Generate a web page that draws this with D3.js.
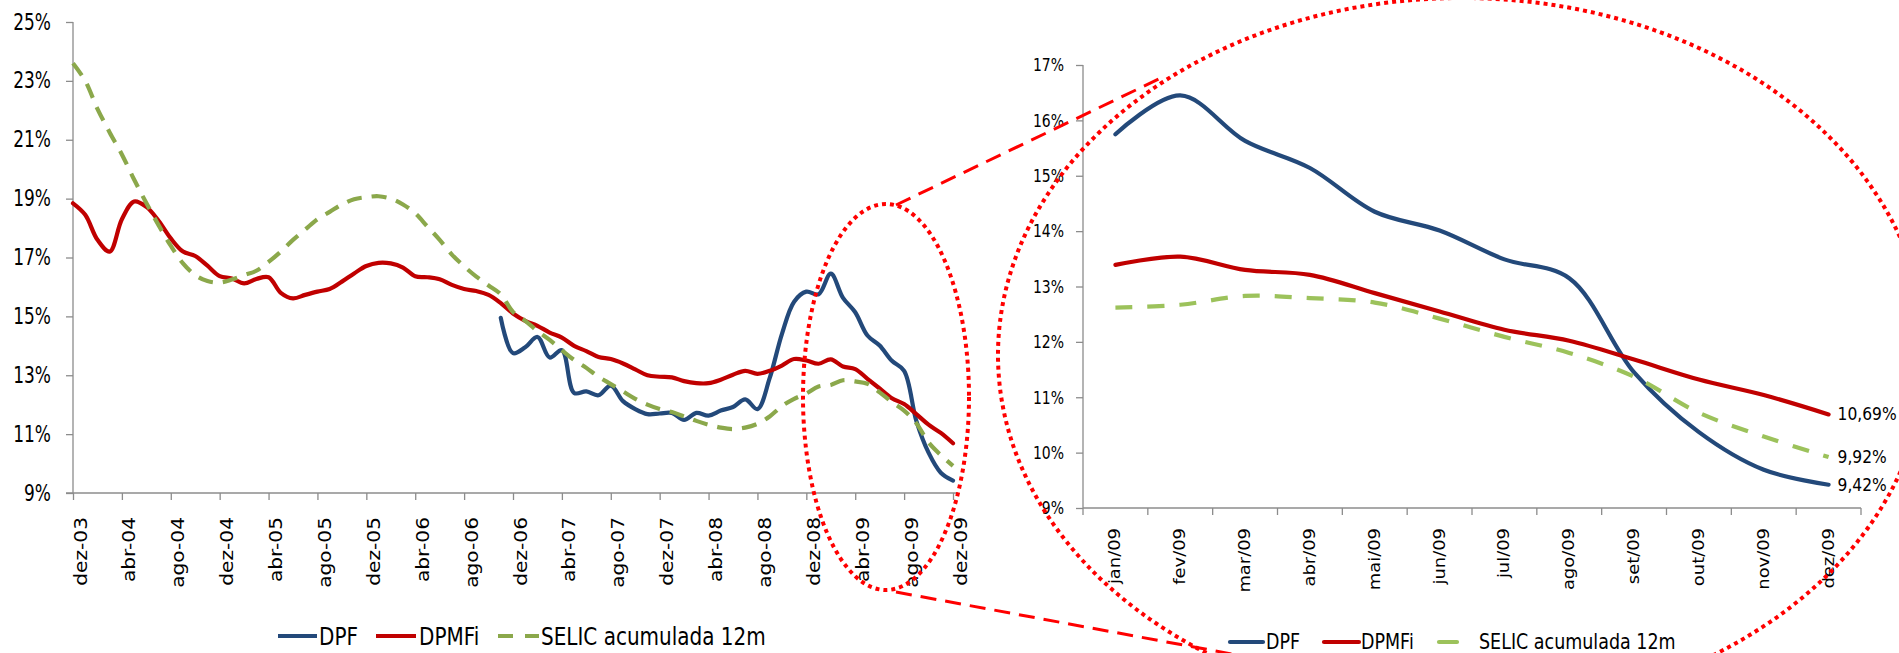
<!DOCTYPE html>
<html><head><meta charset="utf-8">
<script src="https://cdn.jsdelivr.net/npm/d3@7"></script>
<style>html,body{margin:0;padding:0;background:#fff;} svg{display:block;} text{font-family:"DejaVu Sans",sans-serif;fill:#000;}</style>
</head><body>
<svg id="c" width="1899" height="653"></svg>
<script>
// ---------- DATA ----------
const leftTickLabels = ["dez-03","abr-04","ago-04","dez-04","abr-05","ago-05","dez-05","abr-06","ago-06",
  "dez-06","abr-07","ago-07","dez-07","abr-08","ago-08","dez-08","abr-09","ago-09","dez-09"];
// monthly values, dez-03 ... dez-09 (73 months)
const leftDPMFi = [18.84,18.45,17.6,17.2,18.3,18.9,18.72,18.25,17.65,17.2,17.05,16.72,16.37,16.29,16.12,16.27,16.33,15.8,15.61,15.73,
  15.84,15.93,16.18,16.46,16.71,16.82,16.8,16.66,16.36,16.33,16.26,16.07,15.93,15.86,15.73,15.45,15.1,14.85,14.68,14.45,
  14.28,14.0,13.82,13.62,13.55,13.4,13.2,13.0,12.95,12.93,12.8,12.73,12.73,12.85,13.02,13.15,13.05,13.15,13.33,13.55,
  13.5,13.39,13.54,13.3,13.21,12.88,12.55,12.22,12.02,11.68,11.32,11.04,10.69];
const leftSELIC = [23.6,23.0,22.05,21.25,20.5,19.65,18.85,18.1,17.4,16.8,16.4,16.2,16.15,16.25,16.4,16.55,16.85,17.2,17.6,17.95,
  18.3,18.55,18.8,18.98,19.05,19.08,19.0,18.8,18.5,18.05,17.6,17.1,16.7,16.35,16.05,15.75,15.15,14.85,14.5,14.2,
  13.85,13.52,13.25,12.95,12.7,12.45,12.2,12.0,11.85,11.75,11.6,11.45,11.32,11.22,11.17,11.22,11.35,11.6,11.95,12.2,
  12.38,12.62,12.67,12.83,12.79,12.71,12.42,12.09,11.8,11.37,10.72,10.29,9.92];
const leftDPF = [null,null,null,null,null,null,null,null,null,null,null,null,null,null,null,null,null,null,null,null,
  null,null,null,null,null,null,null,null,null,null,null,null,null,null,null,14.95,13.75,13.95,14.3,13.6,
  13.85,12.4,12.45,12.32,12.65,12.12,11.85,11.68,11.7,11.72,11.48,11.72,11.63,11.8,11.92,12.18,11.85,12.9,14.4,15.5,
  15.84,15.75,16.45,15.63,15.14,14.35,14.01,13.49,13.15,11.45,10.37,9.69,9.42];
const leftYTicks = [9,11,13,15,17,19,21,23,25];

const rightMonths = ["jan/09","fev/09","mar/09","abr/09","mai/09","jun/09","jul/09","ago/09","set/09","out/09","nov/09","dez/09"];
const rightDPF   = [15.75,16.45,15.63,15.14,14.35,14.01,13.49,13.15,11.45,10.37,9.69,9.42];
const rightDPMFi = [13.39,13.54,13.30,13.21,12.88,12.55,12.22,12.02,11.68,11.32,11.04,10.69];
const rightSELIC = [12.62,12.67,12.83,12.79,12.71,12.42,12.09,11.80,11.37,10.72,10.29,9.92];
const rightYTicks = [9,10,11,12,13,14,15,16,17];

const seriesNames = ["DPF","DPMFi","SELIC acumulada 12m"];

// ---------- STYLE ----------
const BLUE = "#23497A", RED = "#C00000", GREEN_L = "#8BA84B", GREEN_R = "#9CC25B", AXIS = "#8C8C8C";
const curve = d3.curveCatmullRom.alpha(0.5);
const svg = d3.select("#c");
const pctComma = v => d3.format(".2f")(v).replace(".", ",") + "%";

// ---------- LEFT CHART ----------
const xL = d3.scaleLinear().domain([0, 72]).range([73, 953]);
const yL = d3.scaleLinear().domain([9, 25]).range([493, 22]);
const gL = svg.append("g");

const yAxL = gL.append("g").attr("transform", "translate(73,0)")
  .call(d3.axisLeft(yL).tickValues(leftYTicks).tickSize(7).tickPadding(15).tickFormat(d => d + "%"));
yAxL.select(".domain").attr("d", "M0," + yL(25) + "V" + yL(9));
yAxL.selectAll("text").style("font-size", "17px").attr("transform", "scale(1,1.3)");

const xAxL = gL.append("g").attr("transform", "translate(0,493)")
  .call(d3.axisBottom(xL).tickValues(d3.range(0, 73, 4)).tickSize(7).tickFormat((d, i) => leftTickLabels[i]));
xAxL.select(".domain").attr("d", "M66,0H958");
xAxL.selectAll("text").style("font-size", "18px").attr("text-anchor", "end")
  .attr("x", 0).attr("y", 0).attr("dy", 0)
  .attr("transform", "translate(13,24) scale(1,1.12) rotate(-90)");

[yAxL, xAxL].forEach(a => { a.selectAll("line,path").attr("stroke", AXIS).attr("stroke-width", 1.3); a.selectAll("text").attr("fill", "#000"); });

const lineL = d3.line().defined(d => d != null).x((d, i) => xL(i)).y(d => yL(d)).curve(curve);
gL.append("path").attr("d", lineL(leftDPF)).attr("fill", "none").attr("stroke", BLUE).attr("stroke-width", 4.2).attr("stroke-linecap", "round");
gL.append("path").attr("d", lineL(leftDPMFi)).attr("fill", "none").attr("stroke", RED).attr("stroke-width", 4.2).attr("stroke-linecap", "round");
gL.append("path").attr("d", lineL(leftSELIC)).attr("fill", "none").attr("stroke", GREEN_L).attr("stroke-width", 4.2).attr("stroke-dasharray", "15 10");

// left legend
const legL = [
  {name: seriesNames[0], color: BLUE, x1: 278, x2: 317, tx: 319, dash: null},
  {name: seriesNames[1], color: RED, x1: 376, x2: 416, tx: 419, dash: null},
  {name: seriesNames[2], color: GREEN_L, x1: 498, x2: 539, tx: 541, dash: "15 12"}];
legL.forEach(d => {
  gL.append("line").attr("x1", d.x1).attr("x2", d.x2).attr("y1", 636).attr("y2", 636)
    .attr("stroke", d.color).attr("stroke-width", 4.2).attr("stroke-dasharray", d.dash);
  gL.append("text").text(d.name).attr("transform", `translate(${d.tx},636) scale(1,1.2)`)
    .attr("dominant-baseline", "central").style("font-size", "20px");
});

// ---------- RIGHT CHART ----------
const xR = d3.scaleBand().domain(rightMonths).range([1083, 1861]).padding(0);
const yR = d3.scaleLinear().domain([9, 17]).range([508, 65]);
const gR = svg.append("g");
const cx = m => xR(m) + xR.bandwidth() / 2;

const yAxR = gR.append("g").attr("transform", "translate(1083,0)")
  .call(d3.axisLeft(yR).tickValues(rightYTicks).tickSize(7).tickPadding(12).tickFormat(d => d + "%"));
yAxR.select(".domain").attr("d", "M0," + yR(17) + "V" + yR(9));
yAxR.selectAll("text").style("font-size", "14px").attr("transform", "scale(1,1.3)");

const xAxR = gR.append("g").attr("transform", "translate(0,508)");
xAxR.append("path").attr("d", "M1083,0H1861");
xAxR.selectAll(".tk").data(d3.range(rightMonths.length + 1)).enter().append("line")
  .attr("x1", i => 1083 + i * xR.bandwidth()).attr("x2", i => 1083 + i * xR.bandwidth()).attr("y1", 0).attr("y2", 7);
xAxR.selectAll(".lb").data(rightMonths).enter().append("text").text(d => d)
  .attr("text-anchor", "end").style("font-size", "16px")
  .attr("transform", d => `translate(${cx(d) + 5},20) scale(1,1.12) rotate(-90)`);

[yAxR, xAxR].forEach(a => { a.selectAll("line,path").attr("stroke", AXIS).attr("stroke-width", 1.3).attr("fill", "none"); a.selectAll("text").attr("fill", "#000"); });

const lineR = d3.line().x((d, i) => cx(rightMonths[i])).y(d => yR(d)).curve(curve);
gR.append("path").attr("d", lineR(rightDPF)).attr("fill", "none").attr("stroke", BLUE).attr("stroke-width", 4.2).attr("stroke-linecap", "round");
gR.append("path").attr("d", lineR(rightDPMFi)).attr("fill", "none").attr("stroke", RED).attr("stroke-width", 4.2).attr("stroke-linecap", "round");
gR.append("path").attr("d", lineR(rightSELIC)).attr("fill", "none").attr("stroke", GREEN_R).attr("stroke-width", 4.2).attr("stroke-dasharray", "17 15");

// end labels
const last = rightMonths[rightMonths.length - 1];
[rightDPF, rightDPMFi, rightSELIC].forEach(s => {
  const v = s[s.length - 1];
  gR.append("text").text(pctComma(v)).attr("dominant-baseline", "central").style("font-size", "15.5px")
    .attr("transform", `translate(${cx(last) + 9},${yR(v)}) scale(1,1.12)`);
});

// right legend
const legR = [
  {name: seriesNames[0], color: BLUE, x1: 1230, x2: 1263, tx: 1266, dash: null},
  {name: seriesNames[1], color: RED, x1: 1324, x2: 1359, tx: 1361, dash: null},
  {name: seriesNames[2], color: GREEN_R, x1: 1439, x2: 1457, tx: 1479, dash: null}];
legR.forEach(d => {
  gR.append("line").attr("x1", d.x1).attr("x2", d.x2).attr("y1", 642).attr("y2", 642)
    .attr("stroke", d.color).attr("stroke-width", 4.2).attr("stroke-linecap", "round");
  gR.append("text").text(d.name).attr("transform", `translate(${d.tx},642) scale(1,1.2)`)
    .attr("dominant-baseline", "central").style("font-size", "17.5px");
});

// ---------- ZOOM ANNOTATION ----------
const ann = svg.append("g").attr("fill", "none").attr("stroke", "#FF0000");
ann.append("line").attr("x1", 896).attr("y1", 205).attr("x2", 1163).attr("y2", 77)
  .attr("stroke-width", 3).attr("stroke-dasharray", "16 9");
ann.append("line").attr("x1", 896).attr("y1", 592).attr("x2", 1232).attr("y2", 654)
  .attr("stroke-width", 3).attr("stroke-dasharray", "16 9");
ann.append("ellipse").attr("cx", 886).attr("cy", 397).attr("rx", 83).attr("ry", 193)
  .attr("stroke-width", 4).attr("stroke-dasharray", "4 4");
ann.append("ellipse").attr("cx", 1462).attr("cy", 355).attr("rx", 464).attr("ry", 357)
  .attr("stroke-width", 4).attr("stroke-dasharray", "4 4");
</script>
</body></html>
